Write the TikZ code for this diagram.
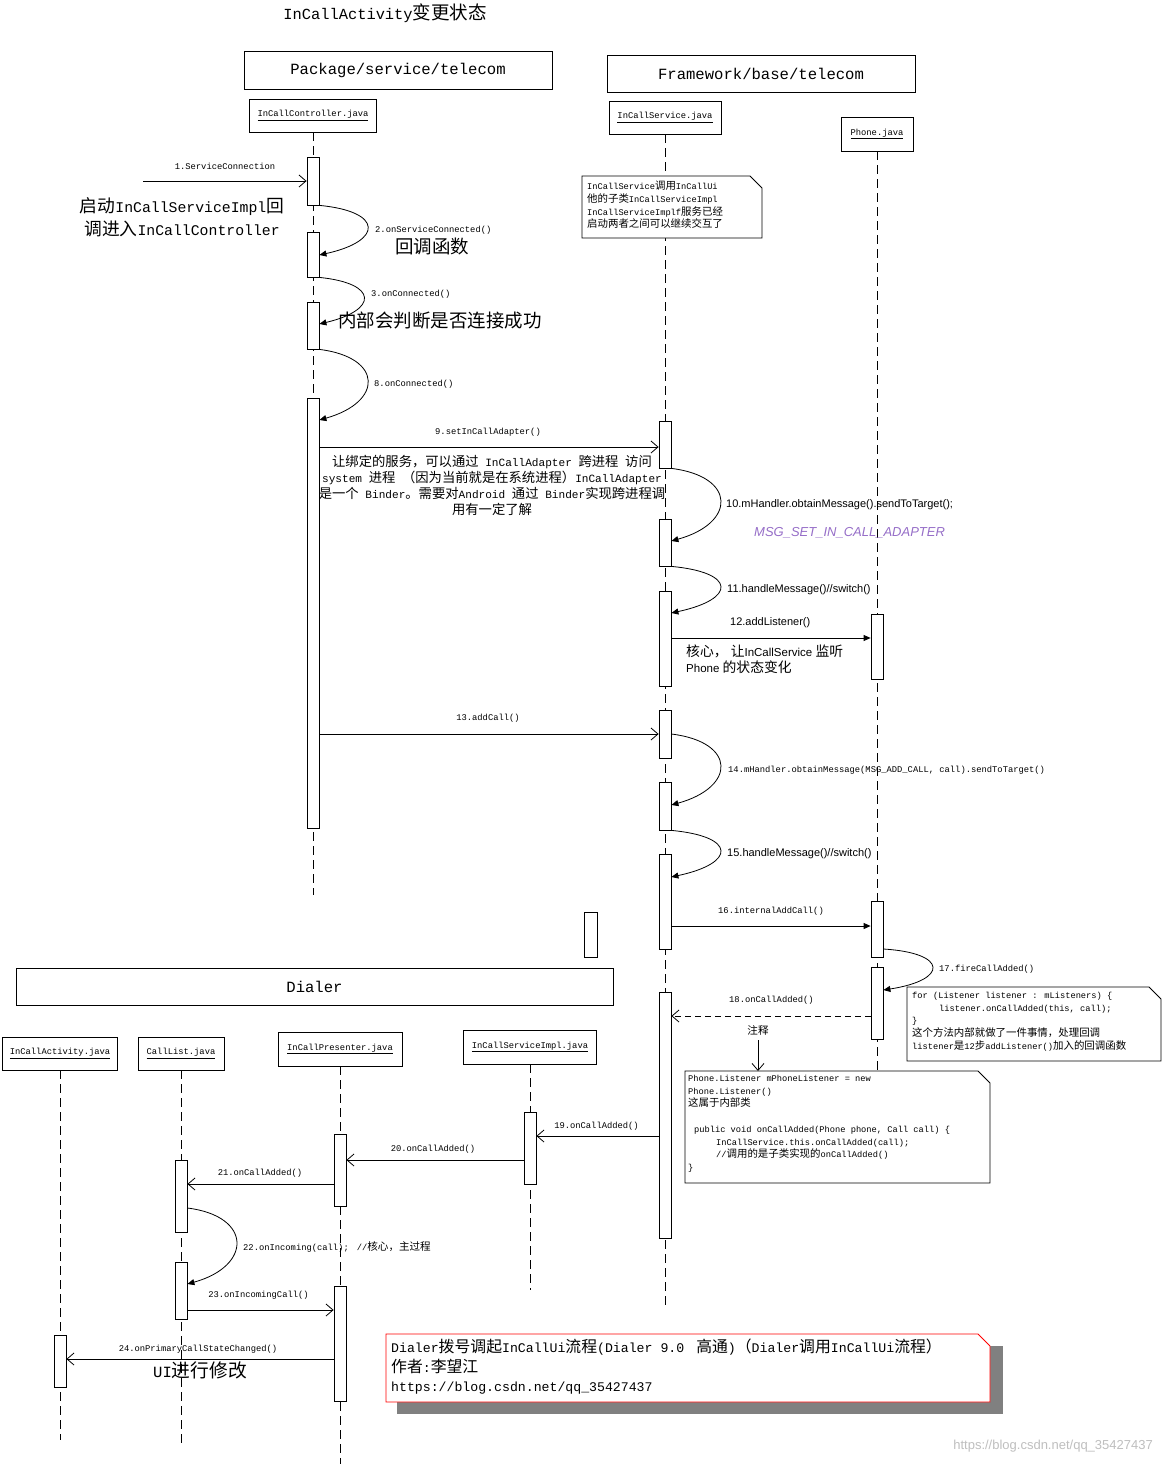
\documentclass[tikz,border=0pt]{standalone}
\usepackage{fontspec}
\usetikzlibrary{arrows.meta}
\setmainfont{Liberation Mono}
\newfontfamily\cjk{Noto Sans CJK SC}[Scale=1.2]
\newfontfamily\sansf{Liberation Sans}
\newcommand\z[1]{{\cjk #1}}
\definecolor{msgpurple}{RGB}{150,110,200}
\definecolor{shadowgray}{RGB}{128,128,128}
\begin{document}
\begin{tikzpicture}[x=1pt,y=-1pt,
  lw/.style={line width=0.8pt},
  headbox/.style={draw, line width=0.8pt, fill=white, inner sep=0pt},
  act/.style={draw, line width=0.8pt, fill=white, minimum width=12pt, inner sep=0pt},
  life/.style={line width=0.8pt, dash pattern=on 9pt off 5pt},
  sync/.style={line width=0.8pt, -{Triangle[length=7pt,width=6pt]}},
  async/.style={line width=0.8pt, -{Straight Barb[length=7pt,width=12pt]}},
  lbl/.style={inner sep=0pt, font=\fontsize{8.8}{10.5}\selectfont},
  slbl/.style={inner sep=0pt, font=\sansf\fontsize{11}{13}\selectfont},
  notetxt/.style={inner sep=0pt, align=left, anchor=north west, font=\fontsize{8.7}{12.7}\selectfont},
  big/.style={inner sep=0pt, font=\fontsize{15.4}{18}\selectfont},
]
\useasboundingbox (0,0) rectangle (1162,1464);
\fill[white] (0,0) rectangle (1162,1464);

% title
\node[big] (title) at (385,13) {InCallActivity\z{变更状态}};

% package headers
\node[headbox, minimum width=308pt, minimum height=38pt, font=\fontsize{15.6}{18}\selectfont] (pkg) at (398,70) {Package/service/telecom};
\node[headbox, minimum width=308pt, minimum height=37pt, font=\fontsize{15.6}{18}\selectfont] (fw) at (761,73.5) {Framework/base/telecom};
\node[headbox, minimum width=597pt, minimum height=37pt, font=\fontsize{15.6}{18}\selectfont] (dialer) at (314.5,986.5) {Dialer};

% lifeline heads
\node[headbox, minimum width=127pt, minimum height=33pt, font=\fontsize{8.8}{10.5}\selectfont] (hctrl) at (313,115.5) {\underline{InCallController.java}};
\node[headbox, minimum width=112pt, minimum height=33pt, font=\fontsize{8.8}{10.5}\selectfont] (hsvc) at (665,117.5) {\underline{InCallService.java}};
\node[headbox, minimum width=72pt, minimum height=34pt, font=\fontsize{8.8}{10.5}\selectfont] (hph) at (877,134) {\underline{Phone.java}};
\node[headbox, minimum width=115pt, minimum height=33pt, font=\fontsize{8.8}{10.5}\selectfont] (hact) at (60,1053.5) {\underline{InCallActivity.java}};
\node[headbox, minimum width=86pt, minimum height=33pt, font=\fontsize{8.8}{10.5}\selectfont] (hlist) at (181,1053.5) {\underline{CallList.java}};
\node[headbox, minimum width=124pt, minimum height=34pt, font=\fontsize{8.8}{10.5}\selectfont] (hpres) at (340,1049) {\underline{InCallPresenter.java}};
\node[headbox, minimum width=133pt, minimum height=34pt, font=\fontsize{8.8}{10.5}\selectfont] (himpl) at (530,1047) {\underline{InCallServiceImpl.java}};

% lifelines
\draw[life] (hctrl.south) -- (hctrl.south |- 0,895);
\draw[life] (hsvc.south) -- (hsvc.south |- 0,1305);
\draw[life] (hph.south) -- (hph.south |- 0,1072);
\draw[life] (hact.south) -- (hact.south |- 0,1440);
\draw[life] (hlist.south) -- (hlist.south |- 0,1448);
\draw[life] (hpres.south) -- (hpres.south |- 0,1464);
\draw[life] (himpl.south) -- (himpl.south |- 0,1290);

% note 1
\draw[lw, fill=white] (582,176) -- (750,176) -- (762,188) -- (762,238) -- (582,238) -- cycle;
\node[notetxt] (n1) at (587,181) {InCallService\z{调用}InCallUi\\\z{他的子类}InCallServiceImpl\\InCallServiceImplf\z{服务已经}\\\z{启动两者之间可以继续交互了}};

% activations
\node[act, minimum height=48pt] (c1) at (313,181) {};
\node[act, minimum height=45pt] (c2) at (313,254.5) {};
\node[act, minimum height=47pt] (c3) at (313,325.5) {};
\node[act, minimum height=430pt] (c4) at (313,613) {};

\node[act, minimum height=47pt] (s1) at (665,444.5) {};
\node[act, minimum height=47pt] (s2) at (665,542.5) {};
\node[act, minimum height=95pt] (s3) at (665,638.5) {};
\node[act, minimum height=48pt] (s4) at (665,734) {};
\node[act, minimum height=48pt] (s5) at (665,806) {};
\node[act, minimum height=95pt] (s6) at (665,901.5) {};
\node[act, minimum height=246pt] (s7) at (665,1115) {};

\node[act, minimum height=65pt] (p1) at (877,646.5) {};
\node[act, minimum height=56pt] (p2) at (877,929) {};
\node[act, minimum height=72pt] (p3) at (877,1003) {};

\node[act, minimum height=72pt] (i1) at (530,1148) {};
\node[act, minimum height=72pt] (r1) at (340,1170) {};
\node[act, minimum height=115pt] (r2) at (340,1343.5) {};
\node[act, minimum height=72pt] (l1) at (181,1196) {};
\node[act, minimum height=57pt] (l2) at (181,1290.5) {};
\node[act, minimum height=52pt] (a1) at (60,1361) {};

\node[act, minimum width=13pt, minimum height=45pt] (stray) at (590.5,934.5) {};

% message 1
\coordinate (m1s) at (143,181);
\draw[async] (m1s) -- (c1.west |- m1s);
\node[lbl] (t1) at (225,166) {1.ServiceConnection};
\node[inner sep=0pt, align=center, font=\fontsize{14.8}{22.5}\selectfont] (tstart) at (182,217) {\z{启动}InCallServiceImpl\z{回}\\\z{调进入}InCallController};

% self calls on controller
\draw[sync] (c1.south east) .. controls +(64,6) and +(64,-14) .. (c2.east |- 0,255);
\node[lbl, anchor=west] (t2) at (375,230) {2.onServiceConnected()};
\node[inner sep=0pt, anchor=west, font=\fontsize{15.4}{18}\selectfont] (t2b) at (395,246) {\z{回调函数}};

\draw[sync] (c2.south east) .. controls +(59,6) and +(59,-14) .. (c3.east |- 0,324);
\node[lbl, anchor=west] (t3) at (371,294) {3.onConnected()};
\node[inner sep=0pt, anchor=west, font=\fontsize{15.4}{18}\selectfont] (t3b) at (338,321) {\z{内部会判断是否连接成功}};

\draw[sync] (c3.south east) .. controls +(64,8) and +(64,-18) .. (c4.east |- 0,420);
\node[lbl, anchor=west] (t8) at (374,384) {8.onConnected()};

% message 9
\draw[async] (c4.east |- 0,447) -- (s1.west |- 0,447);
\node[lbl] (t9) at (488,432) {9.setInCallAdapter()};
\node[inner sep=0pt, align=center, font=\fontsize{11.1}{16}\selectfont] (t9b) at (492,485) {\z{让绑定的服务，可以通过} InCallAdapter \z{跨进程} \z{访问}\\system \z{进程} \z{（因为当前就是在系统进程）}InCallAdapter\\\z{是一个} Binder\z{。需要对}Android \z{通过} Binder\z{实现跨进程调}\\\z{用有一定了解}};

% 10, 11
\draw[sync] (s1.south east) .. controls +(65,8) and +(65,-18) .. (s2.east |- 0,541);
\node[slbl, anchor=west] (t10) at (726,505) {10.mHandler.obtainMessage().sendToTarget();};
\node[inner sep=0pt, anchor=west, text=msgpurple, font=\sansf\itshape\fontsize{13}{15}\selectfont] (t10b) at (754,533) {MSG\_SET\_IN\_CALL\_ADAPTER};

\draw[sync] (s2.south east) .. controls +(65,6) and +(65,-14) .. (s3.east |- 0,613);
\node[slbl, anchor=west] (t11) at (727,590) {11.handleMessage()//switch()};

% 12
\draw[sync] (s3.east |- 0,638) -- (p1.west |- 0,638);
\node[slbl, anchor=west] (t12) at (730,623) {12.addListener()};
\node[inner sep=0pt, anchor=north west, align=left, font=\sansf\fontsize{11.5}{16}\selectfont] (t12b) at (686,645) {\z{核心，} \z{让}InCallService \z{监听}\\Phone \z{的状态变化}};

% 13
\draw[async] (c4.east |- 0,734) -- (s4.west |- 0,734);
\node[lbl] (t13) at (488,718) {13.addCall()};

% 14, 15
\draw[sync] (s4.east |- 0,734) .. controls +(65,8) and +(65,-18) .. (s5.east |- 0,805);
\node[lbl, anchor=west] (t14) at (728,770) {14.mHandler.obtainMessage(MSG\_ADD\_CALL, call).sendToTarget()};
\draw[sync] (s5.south east) .. controls +(65,6) and +(65,-14) .. (s6.east |- 0,877);
\node[slbl, anchor=west] (t15) at (727,854) {15.handleMessage()//switch()};

% 16
\draw[sync] (s6.east |- 0,926) -- (p2.west |- 0,926);
\node[lbl, anchor=west] (t16) at (718,911) {16.internalAddCall()};

% 17
\draw[sync] (p2.east |- 0,949) .. controls +(65,4) and +(65,-10) .. (p3.east |- 0,990);
\node[lbl, anchor=west] (t17) at (939,969) {17.fireCallAdded()};

% note for loop
\draw[lw, fill=white] (907,987) -- (1149,987) -- (1161,999) -- (1161,1061) -- (907,1061) -- cycle;
\node[notetxt] (n2) at (912,992) {for (Listener listener : mListeners) \{\\\hspace*{27pt}listener.onCallAdded(this, call);\\\}\\\z{这个方法内部就做了一件事情，处理回调}\\listener\z{是}12\z{步}addListener()\z{加入的回调函数}};

% 18
\draw[lw, dash pattern=on 6pt off 4pt, -{Straight Barb[length=7pt,width=12pt]}] (p3.west |- 0,1016) -- (s7.east |- 0,1016);
\node[lbl, anchor=west] (t18) at (729,1000) {18.onCallAdded()};

% note Phone.Listener
\draw[lw, fill=white] (685,1071) -- (978,1071) -- (990,1083) -- (990,1183) -- (685,1183) -- cycle;
\node[notetxt] (n3) at (688,1075) {Phone.Listener mPhoneListener = new\\Phone.Listener()\\\z{这属于内部类}\\[12.7pt]\hspace*{6pt}public void onCallAdded(Phone phone, Call call) \{\\\hspace*{28pt}InCallService.this.onCallAdded(call);\\\hspace*{28pt}//\z{调用的是子类实现的}onCallAdded()\\\}};
\node[lbl] (tz) at (758,1030) {\z{注释}};
\coordinate (n3top) at (758,1071);
\draw[async] (tz.south |- 0,1040) -- (n3top);

% Dialer messages
\draw[async] (s7.west |- 0,1136) -- (i1.east |- 0,1136);
\node[lbl] (t19) at (596.5,1126) {19.onCallAdded()};
\draw[async] (i1.west |- 0,1160) -- (r1.east |- 0,1160);
\node[lbl] (t20) at (433,1149) {20.onCallAdded()};
\draw[async] (r1.west |- 0,1184) -- (l1.east |- 0,1184);
\node[lbl] (t21) at (260,1173) {21.onCallAdded()};
\draw[sync] (l1.east |- 0,1208) .. controls +(65,8) and +(65,-18) .. (l2.east |- 0,1284);
\node[lbl, anchor=west] (t22) at (243,1247) {22.onIncoming(call);\hspace*{8pt}//\z{核心，主过程}};
\draw[async] (l2.east |- 0,1310) -- (r2.west |- 0,1310);
\node[lbl] (t23) at (258.5,1295) {23.onIncomingCall()};
\draw[async] (r2.west |- 0,1359) -- (a1.east |- 0,1359);
\node[lbl] (t24) at (198,1349) {24.onPrimaryCallStateChanged()};
\node[inner sep=0pt, font=\fontsize{15.6}{18}\selectfont] (tui) at (200,1370) {UI\z{进行修改}};

% red note
\fill[shadowgray] (397,1346) rectangle (1003,1414);
\draw[red, lw, fill=white] (386,1334) -- (978,1334) -- (990,1346) -- (990,1402) -- (386,1402) -- cycle;
\node[inner sep=0pt, anchor=north west, align=left, font=\fontsize{13.2}{19.5}\selectfont] (n4) at (391,1339) {Dialer\z{拨号调起}InCallUi\z{流程}(Dialer 9.0\hspace*{12pt}\z{高通})\z{（}Dialer\z{调用}InCallUi\z{流程）}\\\z{作者}:\z{李望江}\\https://blog.csdn.net/qq\_35427437};

% watermark
\node[inner sep=0pt, anchor=east, text=black!25, font=\sansf\fontsize{13}{15}\selectfont] (wm) at (1153,1446) {https://blog.csdn.net/qq\_35427437};
\end{tikzpicture}
\end{document}
